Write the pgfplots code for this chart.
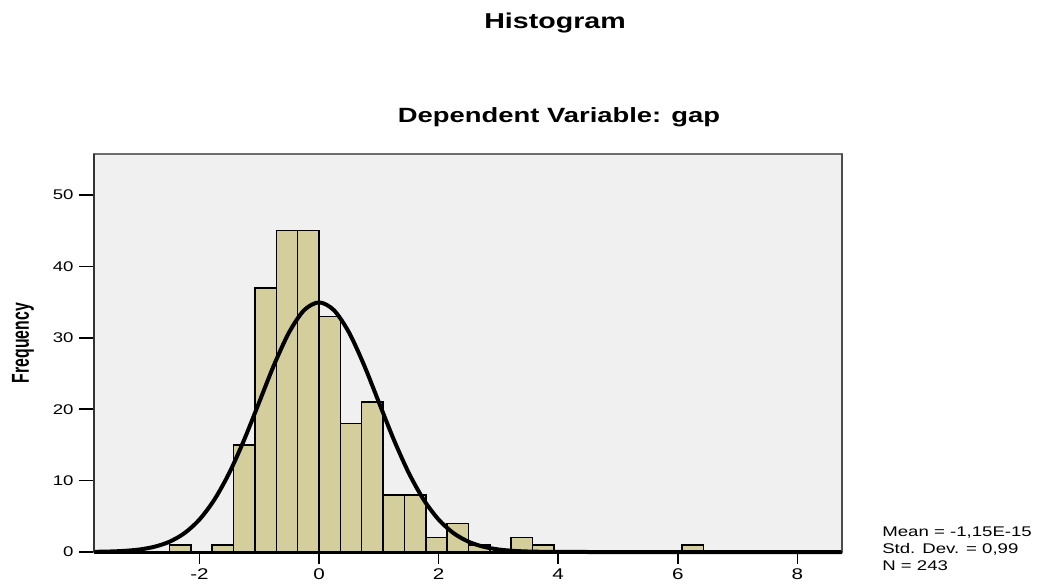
\documentclass[border=0pt]{standalone}
\usepackage{pgfplots}
\pgfplotsset{compat=1.18}
\usepackage{fontspec}
\setmainfont{Liberation Sans}
\usepackage{graphicx}
\definecolor{barcol}{RGB}{211,206,155}
\definecolor{bgcol}{RGB}{240,240,240}
\definecolor{framecol}{RGB}{110,110,110}
\begin{document}
\begin{tikzpicture}
\begin{axis}[
  scale only axis,
  width=748pt, height=398pt,
  xmin=-3.763, xmax=8.746,
  ymin=0, ymax=55.74,
  axis background/.style={fill=bgcol},
  axis line style={draw=framecol, line width=1.3pt},
  xtick={-2,0,2,4,6,8},
  ytick={0,10,20,30,40,50},
  xtick pos=bottom, ytick pos=left,
  tick align=outside,
  xtick style={black, line width=1.5pt, /pgfplots/major tick length=12pt},
  ytick style={black, line width=1.5pt, /pgfplots/major tick length=15pt},
  /pgf/number format/assume math mode=true,
  tick label style={xscale=1.33},
  xticklabel style={inner sep=0pt, yshift=-12pt, font=\fontsize{15.5}{16}\selectfont},
  yticklabel style={inner sep=0pt, xshift=-12pt, font=\fontsize{14}{15}\selectfont},
  ylabel={\scalebox{1}[1.55]{Frequency}},
  ylabel style={at={(axis description cs:-0.0949,0.525)}, anchor=center, rotate=0, font=\fontsize{15.8}{16}\selectfont\bfseries},
  clip=false,
]
\addplot[ybar interval, fill=barcol, draw=black, line width=1.5pt] coordinates {
(-2.5000,1) (-2.1429,0) (-1.7857,1) (-1.4286,15) (-1.0714,37) (-0.7143,45)
(-0.3571,45) (0.0000,33) (0.3571,18) (0.7143,21) (1.0714,8) (1.4286,8)
(1.7857,2) (2.1429,4) (2.5000,1) (2.8571,0) (3.2143,2) (3.5714,1)
(3.9286,0) (4.2857,0) (4.6429,0) (5.0000,0) (5.3571,0) (5.7143,0)
(6.0714,1) (6.4286,1)
};
\addplot[black, line width=4pt, smooth] coordinates {
(-3.763,0.025) (-3.5,0.068) (-3.25,0.16) (-3,0.354) (-2.75,0.74) (-2.5,1.44)
(-2.25,2.64) (-2,4.54) (-1.75,7.33) (-1.5,11.09) (-1.25,15.75) (-1,20.99)
(-0.75,26.24) (-0.5,30.77) (-0.25,33.86) (0,34.96) (0.25,33.86) (0.5,30.77)
(0.75,26.24) (1,20.99) (1.25,15.75) (1.5,11.09) (1.75,7.33) (2,4.54)
(2.25,2.64) (2.5,1.44) (2.75,0.74) (3,0.354) (3.25,0.16) (3.5,0.068)
(3.75,0.027) (4,0.01) (4.5,0.001) (5,0) (6,0) (7,0) (8,0) (8.746,0)
};
\draw[black!80, line width=1.6pt] (rel axis cs:0,0) -- (rel axis cs:0,1);
\draw[black!70, line width=1.8pt] (rel axis cs:1,0) -- (rel axis cs:1,1);
\draw[black, line width=3pt] (rel axis cs:0,0) -- (rel axis cs:1,0);
\node[anchor=base, inner sep=0pt, font=\fontsize{21.5}{22}\selectfont\bfseries, xscale=1.33] at (axis description cs:0.6163,1.3158) {Histogram};
\node[anchor=base, inner sep=0pt, font=\fontsize{20.6}{21}\selectfont\bfseries, xscale=1.33] at (axis description cs:0.6217,1.0804) {Dependent Variable: gap};
\node[anchor=base west, inner sep=0pt, font=\fontsize{14}{15}\selectfont, xscale=1.33] at (axis description cs:1.0535,0.0402) {Mean = -1,15E-15};
\node[anchor=base west, inner sep=0pt, font=\fontsize{14}{15}\selectfont, xscale=1.33] at (axis description cs:1.0535,-0.0038) {Std. Dev. = 0,99};
\node[anchor=base west, inner sep=0pt, font=\fontsize{14}{15}\selectfont, xscale=1.33] at (axis description cs:1.0535,-0.0477) {N = 243};
\end{axis}
\path[use as bounding box] ([shift={(-94pt,-34pt)}]current axis.south west) rectangle ([shift={(198pt,154pt)}]current axis.north east);
\end{tikzpicture}
\end{document}
